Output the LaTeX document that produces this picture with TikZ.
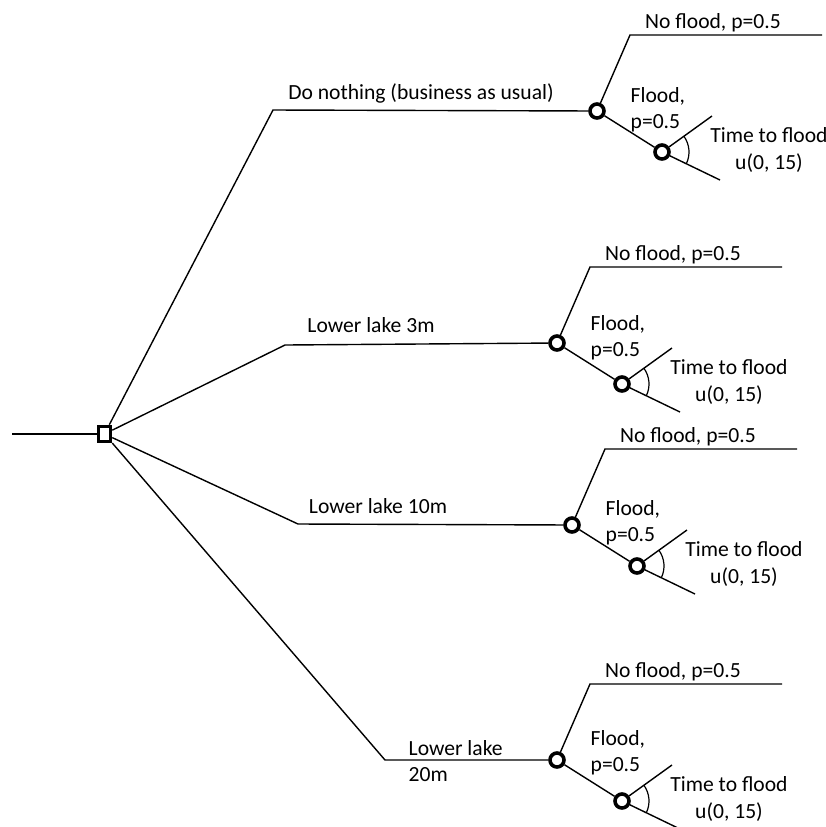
\documentclass[tikz,border=0pt]{standalone}
\usepackage{fontspec}
\setmainfont{Carlito}
\usetikzlibrary{angles}

\tikzset{
  chance/.style={circle,draw,line width=1.8pt,minimum size=7pt,inner sep=0pt},
  decision/.style={rectangle,draw,line width=1.8pt,minimum width=6pt,minimum height=7.5pt,inner sep=0pt},
  lbl/.style={inner sep=1pt,font=\fontsize{10.8}{13.2}\selectfont},
}

\begin{document}
\begin{tikzpicture}[x=0.5pt,y=-0.5pt,line width=0.7pt]
\useasboundingbox (0,0) rectangle (826,827);
% decision node
\node[decision] (dec) at (104.5,434) {};
\coordinate (root) at (12,434);
\draw (root) -- (dec);
% the four options, each with its flood chance
\foreach \n/\kx/\ky/\cx/\cy/\fy in {1/273/110/597/111/-1, 2/285/345/557/343/-5, 3/298/524/572/525/-2, 4/385/760/557/760/-7}
{
  \node[chance] (c\n) at (\cx,\cy) {};
  \coordinate (k\n) at (\kx,\ky);
  \draw (dec) -- (k\n) -- (c\n);
  \path (c\n) ++(33,-76) coordinate (nk\n) ++(192,0) coordinate (ne\n);
  \draw (c\n) -- (nk\n) -- (ne\n);
  \path (c\n) ++(116,-76) node[lbl,anchor=south] (nf\n) {No flood, p=0.5};
  \path (c\n) ++(65,41) node[chance] (s\n) {};
  \draw (c\n) -- (s\n);
  \path (c\n) ++(31,\fy) node[lbl,anchor=west,align=left] (fl\n) {Flood,\\p=0.5};
  \path (s\n) ++(50,-36) coordinate (su\n);
  \path (s\n) ++(58,28) coordinate (sl\n);
  \draw (s\n) -- (su\n);
  \draw (s\n) -- (sl\n);
  \pic[draw,line width=0.6pt,angle radius=13.5pt] {angle=sl\n--s\n--su\n};
  \path (s\n) ++(107,-2) node[lbl,align=center] (tf\n) {Time to flood\\u(0, 15)};
}
\node[lbl] (a1) at (421,93) {Do nothing (business as usual)};
\node[lbl] (a2) at (371,325) {Lower lake 3m};
\node[lbl] (a3) at (378,506) {Lower lake 10m};
\node[lbl,anchor=west,align=left] (a4) at (406,761) {Lower lake\\20m};
\end{tikzpicture}
\end{document}
